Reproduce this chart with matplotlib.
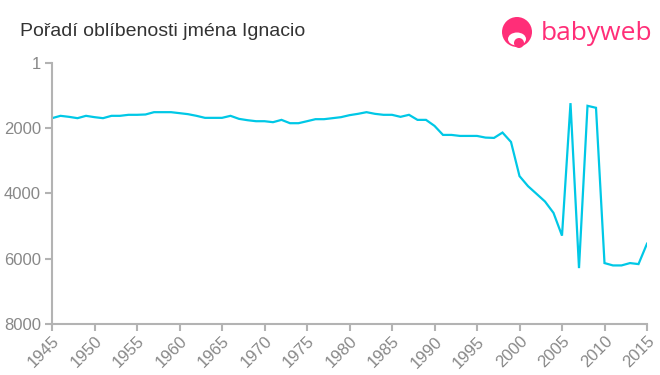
import matplotlib
matplotlib.use("Agg")
import matplotlib.pyplot as plt
from matplotlib.patches import Ellipse

years = list(range(1945, 2016))
ranks = [1692, 1620, 1651, 1692, 1620, 1661, 1692, 1620, 1620, 1589,
         1589, 1579, 1508, 1508, 1508, 1538, 1569, 1620, 1682, 1682,
         1682, 1620, 1713, 1754, 1785, 1785, 1815, 1744, 1846, 1846,
         1785, 1723, 1723, 1692, 1661, 1600, 1559, 1508, 1559, 1589,
         1589, 1651, 1589, 1744, 1744, 1928, 2205, 2205, 2236, 2236,
         2236, 2287, 2297, 2133, 2421, 3467, 3775, 4010, 4246, 4595,
         5292, 1231, 6287, 1313, 1374, 6133, 6205, 6205, 6133, 6164,
         5538]
yticks = [1, 2000, 4000, 6000, 8000]
xticks = list(range(1945, 2016, 5))
title = "Pořadí oblíbenosti jména Ignacio"

plt.rcParams['font.family'] = ['Liberation Sans', 'DejaVu Sans']

W, H = 660, 375
fig = plt.figure(figsize=(W / 100, H / 100), dpi=100)
left, right, top, bottom = 52, 647, 63, 324
ax = fig.add_axes([left / W, 1 - bottom / H, (right - left) / W, (bottom - top) / H])

ax.plot(years, ranks, color="#00c8e6", linewidth=1.6, solid_joinstyle="miter")
ax.set_xlim(1945, 2015)
ax.set_ylim(8000, 1)
ax.set_yticks(yticks)
ax.set_yticklabels([str(t) for t in yticks])
ax.set_xticks(xticks)
ax.set_xticklabels([str(t) for t in xticks], rotation=45, ha="right", va="top",
                   rotation_mode="anchor")

gray = "#b3b3b3"
for s in ["top", "right"]:
    ax.spines[s].set_visible(False)
for s in ["left", "bottom"]:
    ax.spines[s].set_color(gray)
    ax.spines[s].set_linewidth(1.5)
ax.tick_params(axis="both", colors=gray, length=5, width=1.5, labelsize=12,
               labelcolor="#888888")
ax.tick_params(axis="y", pad=3)
ax.tick_params(axis="x", pad=2)

fig.text(20 / W, 1 - 31 / H, title, fontsize=14, color="#333333",
         ha="left", va="center")

# logo
pink = "#ff2e78"


def blob(x, y, w, h, color):
    fig.patches.append(Ellipse((x / W, 1 - y / H), w / W, h / H,
                               transform=fig.transFigure, facecolor=color,
                               edgecolor="none"))


blob(517, 32, 30, 30, pink)
blob(517, 39, 18, 13, "white")
blob(519, 43, 10, 10, pink)
fig.text(541 / W, 1 - 34 / H, "babyweb", fontsize=19, color=pink,
         ha="left", va="center", family=["Open Sans", "DejaVu Sans"])

fig.savefig("out.png", dpi=100)
